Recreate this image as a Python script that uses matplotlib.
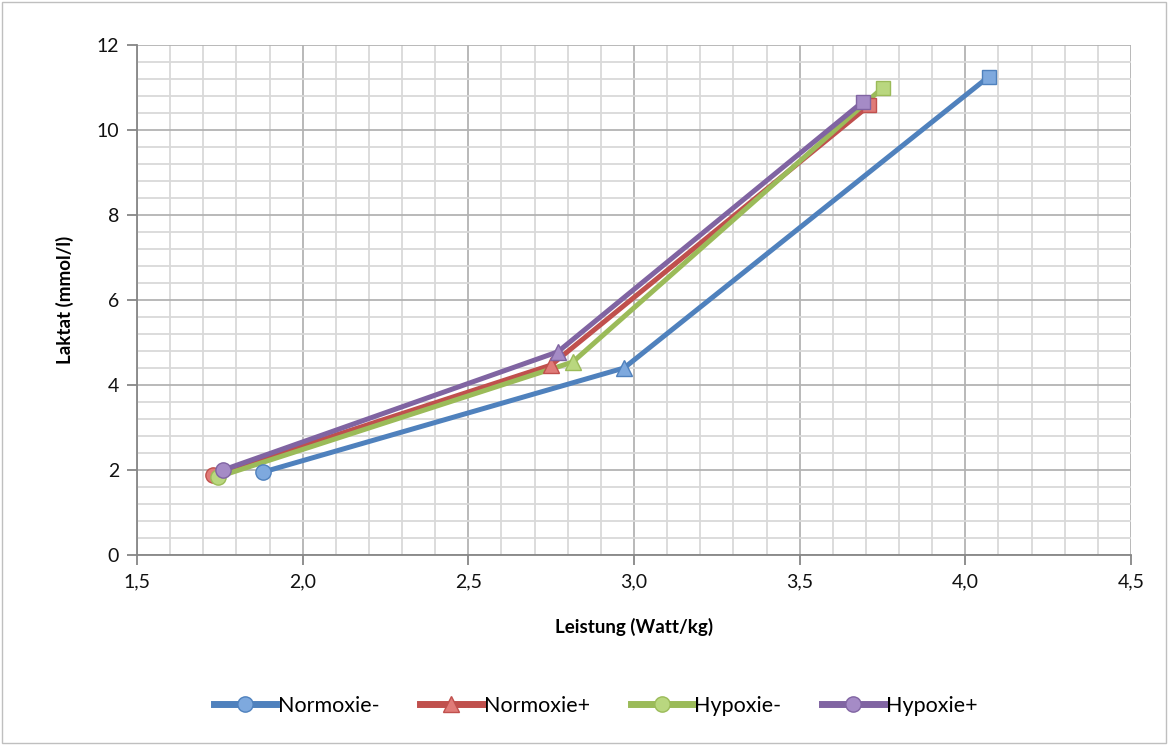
import matplotlib.pyplot as plt
from matplotlib.lines import Line2D
from matplotlib.patches import Rectangle
from matplotlib.ticker import MultipleLocator, FuncFormatter

plt.rcParams['font.family'] = ['Lato', 'DejaVu Sans']

series = ['Normoxie-', 'Normoxie+', 'Hypoxie-', 'Hypoxie+']
leistung = {
    'Normoxie-': [1.88, 2.97, 4.07],
    'Normoxie+': [1.73, 2.75, 3.71],
    'Hypoxie-': [1.745, 2.815, 3.75],
    'Hypoxie+': [1.76, 2.77, 3.69],
}
laktat = {
    'Normoxie-': [1.95, 4.4, 11.25],
    'Normoxie+': [1.88, 4.47, 10.58],
    'Hypoxie-': [1.84, 4.54, 10.99],
    'Hypoxie+': [2.0, 4.78, 10.66],
}
line_colors = ['#4F81BD', '#C0504D', '#9BBB59', '#8064A2']
face_colors = ['#7EA9DE', '#E07B78', '#B9D77F', '#A58BC6']
point_markers = ['o', '^', 's']
legend_markers = ['o', '^', 'o', 'o']

fig = plt.figure(figsize=(11.68, 7.45), dpi=100)
ax = fig.add_axes([137 / 1168, 1 - 555 / 745, (1131 - 137) / 1168, (555 - 45) / 745])

for name, lc, fc in zip(series, line_colors, face_colors):
    xs, ys = leistung[name], laktat[name]
    ax.plot(xs, ys, color=lc, lw=3.6, zorder=3, solid_capstyle='round')
    for x, y, m in zip(xs, ys, point_markers):
        ax.plot([x], [y], marker=m, ms=11 if m != 's' else 10, mfc=fc, mec=lc,
                mew=1, zorder=4, linestyle='none')

ax.set_xlim(1.5, 4.5)
ax.set_ylim(0, 12)
ax.xaxis.set_major_locator(MultipleLocator(0.5))
ax.xaxis.set_minor_locator(MultipleLocator(0.1))
ax.yaxis.set_major_locator(MultipleLocator(2))
ax.yaxis.set_minor_locator(MultipleLocator(0.4))
ax.xaxis.set_major_formatter(FuncFormatter(lambda v, p: f'{v:.1f}'.replace('.', ',')))
ax.yaxis.set_major_formatter(FuncFormatter(lambda v, p: f'{v:.0f}'))
ax.grid(which='major', color='#B3B3B3', lw=1.3)
ax.grid(which='minor', color='#D9D9D9', lw=1.3)
ax.set_axisbelow(True)
for s in ['top', 'right']:
    ax.spines[s].set_visible(False)
for s in ['left', 'bottom']:
    ax.spines[s].set_color('#868686')
    ax.spines[s].set_linewidth(1.3)
ax.tick_params(which='major', length=7, color='#868686', width=1.3, labelsize=14,
               pad=6, labelcolor='#111111')
ax.tick_params(which='minor', length=0)

ax.set_xlabel('Leistung (Watt/kg)', fontsize=13.5, fontweight='bold', labelpad=20)
ax.set_ylabel('Laktat (mmol/l)', fontsize=13.5, fontweight='bold', labelpad=16)

handles = [Line2D([0], [0], color=lc, lw=5, marker=m, ms=11, mfc=fc, mec=lc)
           for lc, fc, m in zip(line_colors, face_colors, legend_markers)]
fig.legend(handles, series, loc='center', bbox_to_anchor=(0.51, 1 - 706 / 745),
           ncol=4, frameon=False, fontsize=15.5, handlelength=2.9, handletextpad=0.05,
           columnspacing=1.9)

fig.patches.append(Rectangle((2 / 1168, 2 / 745), 1 - 4 / 1168, 1 - 4 / 745,
                             transform=fig.transFigure, fill=False,
                             edgecolor='#BFBFBF', lw=1))

fig.savefig('out.png', dpi=100)
